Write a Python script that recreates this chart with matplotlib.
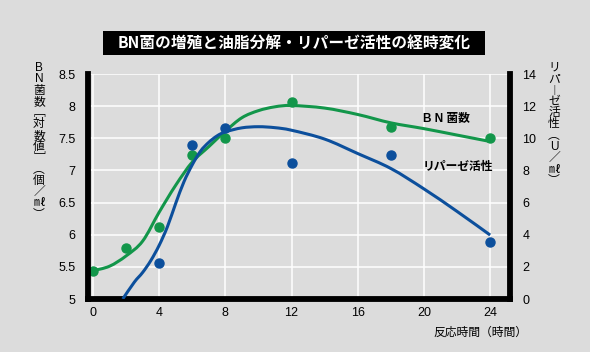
import matplotlib
matplotlib.use('Agg')
import matplotlib.pyplot as plt
import numpy as np
from matplotlib.patches import Rectangle, PathPatch
from matplotlib.path import Path

plt.rcParams['font.family'] = ['Liberation Sans', 'Noto Sans CJK JP']

# measured points
hours_bn = [0, 2, 4, 6, 8, 12, 18, 24]
bn_count = [5.44, 5.79, 6.12, 7.24, 7.51, 8.06, 7.67, 7.51]
hours_lip = [4, 6, 8, 12, 18, 24]
lipase = [2.22, 9.61, 10.67, 8.47, 8.99, 3.52]

# fitted curves, knots
bn_fit_x = [0, 1, 2, 3, 4, 5, 6, 7, 8, 9, 10, 11, 12, 14, 16, 18, 20, 22, 24]
bn_fit_y = [5.44, 5.51, 5.67, 5.90, 6.35, 6.77, 7.13, 7.37, 7.61, 7.82, 7.93, 7.99,
            8.01, 7.97, 7.87, 7.74, 7.65, 7.55, 7.45]
lip_fit_x = [1.8, 2.5, 3, 3.5, 4, 4.5, 5, 5.5, 6, 6.5, 7, 7.5, 8, 9, 10, 11, 12, 14,
             16, 18, 20, 22, 24]
lip_fit_y = [0.0, 1.05, 1.65, 2.4, 3.34, 4.5, 5.95, 7.3, 8.35, 9.2, 9.75, 10.15, 10.4,
             10.65, 10.72, 10.66, 10.5, 9.95, 9.05, 8.12, 6.85, 5.45, 3.98]

x_ticks = [0, 4, 8, 12, 16, 20, 24]
left_ticks = [5, 5.5, 6, 6.5, 7, 7.5, 8, 8.5]
left_labels = ['5', '5.5', '6', '6.5', '7', '7.5', '8', '8.5']
right_ticks = [0, 2, 4, 6, 8, 10, 12, 14]

title = 'BN菌の増殖と油脂分解・リパーゼ活性の経時変化'
x_label = '反応時間（時間）'
left_label = 'BN菌数﹇対数値﹈︵個／㎖︶'
right_label = 'リパ︱ゼ活性︵U／㎖︶'
bn_name = 'B N 菌数'
lip_name = 'リパーゼ活性'

BG = '#dcdcdc'
GREEN = '#12964a'
BLUE = '#0c4f9c'
W, H = 590, 352


def smooth_curve(xs, ys):
    # bezier path through the knots (catmull-rom handles)
    pts = np.column_stack([xs, ys])
    n = len(pts)
    verts = [pts[0]]
    codes = [Path.MOVETO]
    for i in range(n - 1):
        p0 = pts[max(i - 1, 0)]
        p1 = pts[i]
        p2 = pts[i + 1]
        p3 = pts[min(i + 2, n - 1)]
        verts += [p1 + (p2 - p0) / 6, p2 - (p3 - p1) / 6, p2]
        codes += [Path.CURVE4] * 3
    return Path(verts, codes)


fig = plt.figure(figsize=(W / 100, H / 100), dpi=100, facecolor=BG)
ax = fig.add_axes([88 / W, 1 - 299 / H, (510 - 88) / W, (299 - 74) / H])
ax.set_facecolor(BG)
ax2 = ax.twinx()

ax.set_xlim(-0.3, 25.2)
ax.set_ylim(5, 8.5)
ax2.set_ylim(0, 14)
ax.set_xticks(x_ticks)
ax.set_yticks(left_ticks)
ax.set_yticklabels(left_labels)
ax2.set_yticks(right_ticks)

ax.grid(color='white', linewidth=1.1)
ax.set_axisbelow(True)
ax.tick_params(axis='x', length=0, pad=6, labelsize=9)
ax.tick_params(axis='y', length=0, pad=9, labelsize=9)
ax2.tick_params(axis='y', length=0, pad=9, labelsize=9)

for a in (ax, ax2):
    for s in a.spines.values():
        s.set_visible(False)
        s.set_linewidth(4.2)
        s.set_color('black')
        s.set_capstyle('projecting')
ax.spines['left'].set_visible(True)
ax.spines['bottom'].set_visible(True)
ax2.spines['right'].set_visible(True)

ax.add_patch(PathPatch(smooth_curve(bn_fit_x, bn_fit_y), fill=False,
                       edgecolor=GREEN, lw=2.2))
ax.plot(hours_bn, bn_count, 'o', color=GREEN, ms=6.5, clip_on=False)
ax2.add_patch(PathPatch(smooth_curve(lip_fit_x, lip_fit_y), fill=False,
                        edgecolor=BLUE, lw=2.2))
ax2.plot(hours_lip, lipase, 'o', color=BLUE, ms=6.5, clip_on=False)

ax.text(19.95, 7.80, bn_name, fontsize=8.5, fontweight='bold', va='center', ha='left')
ax.text(19.95, 7.05, lip_name, fontsize=8.5, fontweight='bold', va='center', ha='left')

# title box
fig.patches.append(Rectangle((103 / W, 1 - 55 / H), (485 - 103) / W, 24 / H,
                             transform=fig.transFigure, facecolor='black', edgecolor='none'))
fig.text(294 / W, 1 - 43.5 / H, title, color='white', fontsize=11.3, fontweight='bold',
         ha='center', va='center', family=['Noto Sans CJK JP'])

fig.text(480 / W, 1 - 333 / H, x_label, fontsize=8.5, ha='center', va='center')

# vertical axis titles, one character per line
fig.text(39 / W, 1 - 62 / H, '\n'.join(left_label), fontsize=8.5, ha='center',
         va='top', multialignment='center', linespacing=0.92)
fig.text(554 / W, 1 - 62 / H, '\n'.join(right_label), fontsize=8.5, ha='center',
         va='top', multialignment='center', linespacing=0.92)

fig.savefig('out.png', dpi=100, facecolor=BG)
